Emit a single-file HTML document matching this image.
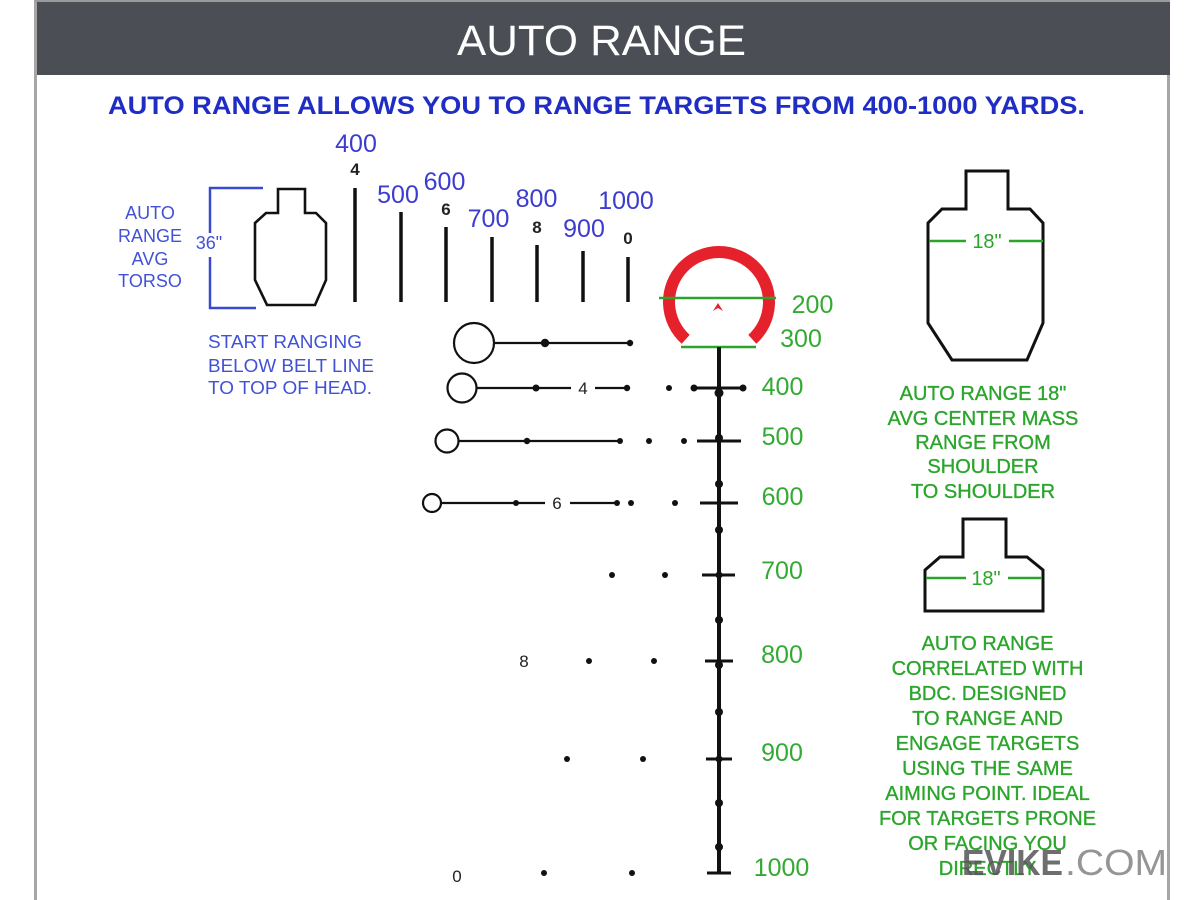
<!DOCTYPE html>
<html>
<head>
<meta charset="utf-8">
<style>
  html,body{margin:0;padding:0;background:#fff;}
  body{width:1200px;height:900px;overflow:hidden;}
  svg{display:block;}
  text{font-family:"Liberation Sans",Arial,sans-serif;}
</style>
</head>
<body>
<svg width="1200" height="900" viewBox="0 0 1200 900" xmlns="http://www.w3.org/2000/svg">
  <rect x="0" y="0" width="1200" height="900" fill="#ffffff"/>
  <!-- frame -->
  <rect x="34" y="0" width="3" height="900" fill="#a6a6a6"/>
  <rect x="1167" y="70" width="3" height="830" fill="#a6a6a6"/>
  <rect x="35" y="0" width="1135" height="2" fill="#9a9a9a"/>
  <rect x="37" y="2" width="1133" height="73" fill="#4b4f55"/>
  <text x="601.5" y="55" font-size="43" fill="#ffffff" text-anchor="middle" textLength="289" lengthAdjust="spacingAndGlyphs">AUTO RANGE</text>

  <!-- subtitle -->
  <text x="108" y="114" font-size="25" font-weight="bold" fill="#1f2dc4" textLength="977" lengthAdjust="spacingAndGlyphs">AUTO RANGE ALLOWS YOU TO RANGE TARGETS FROM 400-1000 YARDS.</text>

  <!-- left torso text -->
  <g font-size="18" fill="#4152d6" text-anchor="middle">
    <text x="150" y="219">AUTO</text>
    <text x="150" y="242">RANGE</text>
    <text x="150" y="265">AVG</text>
    <text x="150" y="287">TORSO</text>
    <text x="209" y="249">36"</text>
  </g>
  <g font-size="18" fill="#4152d6">
    <text x="208" y="348" textLength="154" lengthAdjust="spacingAndGlyphs">START RANGING</text>
    <text x="208" y="372" textLength="166" lengthAdjust="spacingAndGlyphs">BELOW BELT LINE</text>
    <text x="208" y="394" textLength="164" lengthAdjust="spacingAndGlyphs">TO TOP OF HEAD.</text>
  </g>

  <!-- bracket -->
  <g stroke="#3a4ad0" stroke-width="2.5" fill="none">
    <polyline points="263,188 210,188 210,233"/>
    <polyline points="210,257 210,308 256,308"/>
  </g>

  <!-- left torso -->
  <polygon points="278,189 305,189 305,213 316,213 326,223 326,280 315,305 267,305 255,280 255,223 266,213 278,213" fill="none" stroke="#111" stroke-width="2.6" stroke-linejoin="miter"/>

  <!-- range bars -->
  <g stroke="#111" stroke-width="3.5">
    <line x1="355" y1="188" x2="355" y2="302"/>
    <line x1="401" y1="212" x2="401" y2="302"/>
    <line x1="446" y1="227" x2="446" y2="302"/>
    <line x1="492" y1="237" x2="492" y2="302"/>
    <line x1="537" y1="245" x2="537" y2="302"/>
    <line x1="583" y1="251" x2="583" y2="302"/>
    <line x1="628" y1="257" x2="628" y2="302"/>
  </g>
  <g font-size="25" fill="#3c3ccf" text-anchor="middle">
    <text x="356" y="152">400</text>
    <text x="398" y="203">500</text>
    <text x="444.5" y="190">600</text>
    <text x="488.5" y="227">700</text>
    <text x="536.5" y="207">800</text>
    <text x="584" y="237">900</text>
    <text x="626" y="209">1000</text>
  </g>
  <g font-size="17" font-weight="bold" fill="#222" text-anchor="middle">
    <text x="355" y="175">4</text>
    <text x="446" y="215">6</text>
    <text x="537" y="233">8</text>
    <text x="628" y="244">0</text>
  </g>

  <!-- red ring -->
  <path d="M 685.7 339.3 A 50 50 0 1 1 752.3 339.3" fill="none" stroke="#e5222b" stroke-width="12" stroke-linecap="butt"/>
  <polygon points="713,311 718,303 723,311 718,308" fill="#e5222b"/>
  <line x1="659" y1="298" x2="776" y2="298" stroke="#2aa52a" stroke-width="2.5"/>
  <line x1="681" y1="347" x2="756" y2="347" stroke="#2aa52a" stroke-width="2.5"/>

  <!-- stem -->
  <line x1="719" y1="347" x2="719" y2="873" stroke="#111" stroke-width="4"/>
  <g stroke="#111" stroke-width="3">
    <line x1="694" y1="388" x2="743" y2="388"/>
    <line x1="697" y1="441" x2="741" y2="441"/>
    <line x1="700" y1="503" x2="738" y2="503"/>
    <line x1="702" y1="575" x2="735" y2="575"/>
    <line x1="705" y1="661" x2="733" y2="661"/>
    <line x1="706" y1="759" x2="732" y2="759"/>
    <line x1="707" y1="873" x2="731" y2="873"/>
  </g>
  <g fill="#111">
    <circle cx="694" cy="388" r="3.5"/>
    <circle cx="743" cy="388" r="3.5"/>
    <circle cx="719" cy="393" r="4.5"/>
    <circle cx="719" cy="438" r="4"/>
    <circle cx="719" cy="484" r="4"/>
    <circle cx="719" cy="530" r="4"/>
    <circle cx="719" cy="575" r="3.5"/>
    <circle cx="719" cy="620" r="4"/>
    <circle cx="719" cy="665" r="4"/>
    <circle cx="719" cy="712" r="4"/>
    <circle cx="719" cy="759" r="3.5"/>
    <circle cx="719" cy="803" r="4"/>
    <circle cx="719" cy="847" r="4"/>
  </g>

  <!-- left rows -->
  <g stroke="#111" stroke-width="2.2" fill="none">
    <circle cx="474" cy="343" r="20"/>
    <line x1="494" y1="343" x2="630" y2="343"/>
    <circle cx="462" cy="388" r="14.5"/>
    <line x1="476" y1="388" x2="571" y2="388"/>
    <line x1="595" y1="388" x2="627" y2="388"/>
    <circle cx="447" cy="441" r="11.5"/>
    <line x1="459" y1="441" x2="620" y2="441"/>
    <circle cx="432" cy="503" r="9"/>
    <line x1="441" y1="503" x2="545" y2="503"/>
    <line x1="570" y1="503" x2="617" y2="503"/>
  </g>
  <g fill="#111">
    <circle cx="545" cy="343" r="4.2"/>
    <circle cx="630" cy="343" r="3.2"/>
    <circle cx="536" cy="388" r="3.5"/>
    <circle cx="627" cy="388" r="3.2"/>
    <circle cx="669" cy="388" r="3"/>
    <circle cx="527" cy="441" r="3.2"/>
    <circle cx="620" cy="441" r="3"/>
    <circle cx="649" cy="441" r="3"/>
    <circle cx="684" cy="441" r="3"/>
    <circle cx="516" cy="503" r="3"/>
    <circle cx="617" cy="503" r="3"/>
    <circle cx="631" cy="503" r="3"/>
    <circle cx="675" cy="503" r="3"/>
    <circle cx="612" cy="575" r="3"/>
    <circle cx="665" cy="575" r="3"/>
    <circle cx="589" cy="661" r="3"/>
    <circle cx="654" cy="661" r="3"/>
    <circle cx="567" cy="759" r="3"/>
    <circle cx="643" cy="759" r="3"/>
    <circle cx="544" cy="873" r="3"/>
    <circle cx="632" cy="873" r="3"/>
  </g>
  <g font-size="17" fill="#222" text-anchor="middle">
    <text x="583" y="394">4</text>
    <text x="557" y="509">6</text>
    <text x="524" y="667">8</text>
    <text x="457" y="882">0</text>
  </g>

  <!-- green range labels -->
  <g font-size="25" fill="#33aa33" text-anchor="middle">
    <text x="812.5" y="313">200</text>
    <text x="801" y="347">300</text>
    <text x="782.5" y="395">400</text>
    <text x="782.5" y="445">500</text>
    <text x="782.5" y="505">600</text>
    <text x="782" y="579">700</text>
    <text x="782" y="663">800</text>
    <text x="782" y="761">900</text>
    <text x="781.5" y="876">1000</text>
  </g>

  <!-- right torso 1 -->
  <polygon points="966,171 1008,171 1008,209 1030,209 1043,223 1043,323 1027,360 952,360 928,323 928,223 942,209 966,209" fill="none" stroke="#111" stroke-width="3"/>
  <g stroke="#2aa52a" stroke-width="2.5">
    <line x1="929" y1="241" x2="966" y2="241"/>
    <line x1="1009" y1="241" x2="1043" y2="241"/>
  </g>
  <text x="987" y="248" font-size="20" fill="#2aa52a" text-anchor="middle">18"</text>

  <g font-size="20" fill="#2ca52c" stroke="#2ca52c" stroke-width="0.35" text-anchor="middle">
    <text x="983" y="400">AUTO RANGE 18"</text>
    <text x="983" y="425">AVG CENTER MASS</text>
    <text x="983" y="449">RANGE FROM</text>
    <text x="983" y="473">SHOULDER</text>
    <text x="983" y="498">TO SHOULDER</text>
  </g>

  <!-- right torso 2 -->
  <polygon points="963,519 1006,519 1006,557 1027,557 1043,570 1043,611 925,611 925,570 940,557 963,557" fill="none" stroke="#111" stroke-width="3"/>
  <g stroke="#2aa52a" stroke-width="2.5">
    <line x1="926" y1="578" x2="966" y2="578"/>
    <line x1="1008" y1="578" x2="1042" y2="578"/>
  </g>
  <text x="986" y="585" font-size="20" fill="#2aa52a" text-anchor="middle">18"</text>

  <g font-size="20" fill="#2ca52c" stroke="#2ca52c" stroke-width="0.35" text-anchor="middle">
    <text x="987.5" y="650">AUTO RANGE</text>
    <text x="987.5" y="675">CORRELATED WITH</text>
    <text x="987.5" y="700">BDC. DESIGNED</text>
    <text x="987.5" y="725">TO RANGE AND</text>
    <text x="987.5" y="750">ENGAGE TARGETS</text>
    <text x="987.5" y="775">USING THE SAME</text>
    <text x="987.5" y="800">AIMING POINT. IDEAL</text>
    <text x="987.5" y="825">FOR TARGETS PRONE</text>
    <text x="987.5" y="850">OR FACING YOU</text>
    <text x="987.5" y="875">DIRECTLY</text>
  </g>

  <!-- watermark -->
  <text x="962" y="875" font-size="36" font-weight="bold" fill="#555" fill-opacity="0.85" textLength="101" lengthAdjust="spacingAndGlyphs">EVIKE</text>
  <text x="1065" y="875" font-size="36" fill="#8a8a8a" fill-opacity="0.9" textLength="102" lengthAdjust="spacingAndGlyphs">.COM</text>
</svg>
</body>
</html>
